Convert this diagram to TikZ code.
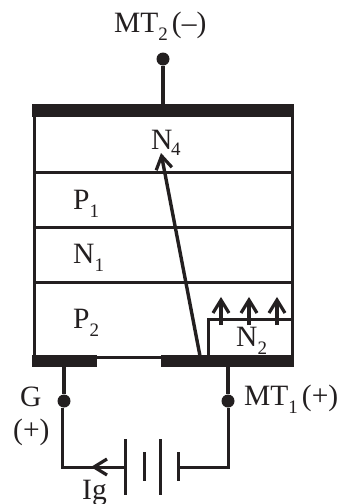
\documentclass[tikz,border=0pt]{standalone}
\usepackage{fontspec}
\setmainfont{Liberation Serif}
\usetikzlibrary{arrows.meta}
\definecolor{ink}{HTML}{231F20}
\newcommand\subd[1]{\raisebox{-8pt}{\fontsize{19}{19}\selectfont #1}}
\tikzset{
  x=1pt,y=-1pt,
  wall/.style={line width=3pt,draw=ink},
  lead/.style={line width=4pt,draw=ink},
  wire/.style={line width=3pt,draw=ink},
  bar/.style={fill=ink,draw=none},
  dotn/.style={circle,fill=ink,inner sep=0pt,minimum size=13pt},
  lbl/.style={inner sep=0pt,text=ink,font=\fontsize{29.5}{31}\selectfont},
  barbhead/.pic={\draw[line width=3.2pt,draw=ink,line cap=butt,miter limit=10] (-8,13) -- (0,0) -- (8,13);},
}
\begin{document}
\begin{tikzpicture}
\useasboundingbox (0,0) rectangle (337,504);
\fill[white] (0,0) rectangle (337,504);
% layers
\draw[wall] (34,117) -- (34,357) -- (292,357) -- (292,117);
\coordinate (la) at (34,172); \coordinate (lb) at (292,172);
\coordinate (lc) at (34,227); \coordinate (ld) at (292,227);
\coordinate (le) at (34,282); \coordinate (lf) at (292,282);
\draw[wall] (la) -- (lb); \draw[wall] (lc) -- (ld); \draw[wall] (le) -- (lf);
% contacts
\fill[bar] (32,104) rectangle (294,117);
\fill[bar] (32,355) rectangle (97,367);
\fill[bar] (161,355) rectangle (294,367);
% terminals
\node[dotn] (mt2) at (163,59) {};
\node[dotn] (g) at (64,401) {};
\node[dotn] (mt1) at (228,401) {};
\coordinate (topc) at (163,105);
\coordinate (gc) at (64,366);
\coordinate (mc) at (228,366);
\draw[lead] (mt2) -- (topc);
\draw[lead] (gc) -- (g);
\draw[lead] (mc) -- (mt1);
% N2 region
\draw[wall] (208,356) -- (208,319) -- (292,319);
\foreach \x in {221,249,277} {
  \draw[wall,line width=3.6pt] (\x,325) -- (\x,301);
  \pic at (\x,300) {barbhead};
}
% main arrow
\coordinate (as) at (200,356);
\coordinate (ae) at (161.6,156);
\draw[wall,line width=3.4pt] (as) -- (ae);
\pic[rotate=10.8] at (ae) {barbhead};
% battery
\coordinate (b1) at (125,467);
\coordinate (b4) at (178,467);
\coordinate (gb) at (62,467);
\coordinate (mb) at (228,467);
\coordinate (igt) at (94,467);
\draw[wire] (g.south -| gb) -- (gb) -- (b1);
\pic[rotate=90] at (igt) {barbhead};
\draw[wire] (mt1) -- (mb) -- (b4);
\draw[wire] (125,439) -- (125,495);
\draw[wire] (144,452) -- (144,481);
\draw[wire] (160,439) -- (160,495);
\draw[wire] (178,452) -- (178,481);
% labels
\node[lbl,anchor=base west] (t1) at (114,32) {MT\subd{2}\hspace{4pt}(–)};
\node[lbl,anchor=base west] (t2) at (151,149) {N};
\node[lbl,anchor=base west] at (171,155) {\fontsize{19}{19}\selectfont 4};
\node[lbl,anchor=base west] at (73,209) {P\subd{1}};
\node[lbl,anchor=base west] at (73,263) {N\subd{1}};
\node[lbl,anchor=base west] at (73,328) {P\subd{2}};
\node[lbl,anchor=base west] at (236,346) {N\subd{2}};
\node[lbl,anchor=base west] at (20,406) {G};
\node[lbl,anchor=base west] at (13,439) {(+)};
\node[lbl,anchor=base west] at (244,405) {MT\subd{1}\hspace{4pt}(+)};
\node[lbl,anchor=base west] at (82,499) {Ig};
\end{tikzpicture}
\end{document}
